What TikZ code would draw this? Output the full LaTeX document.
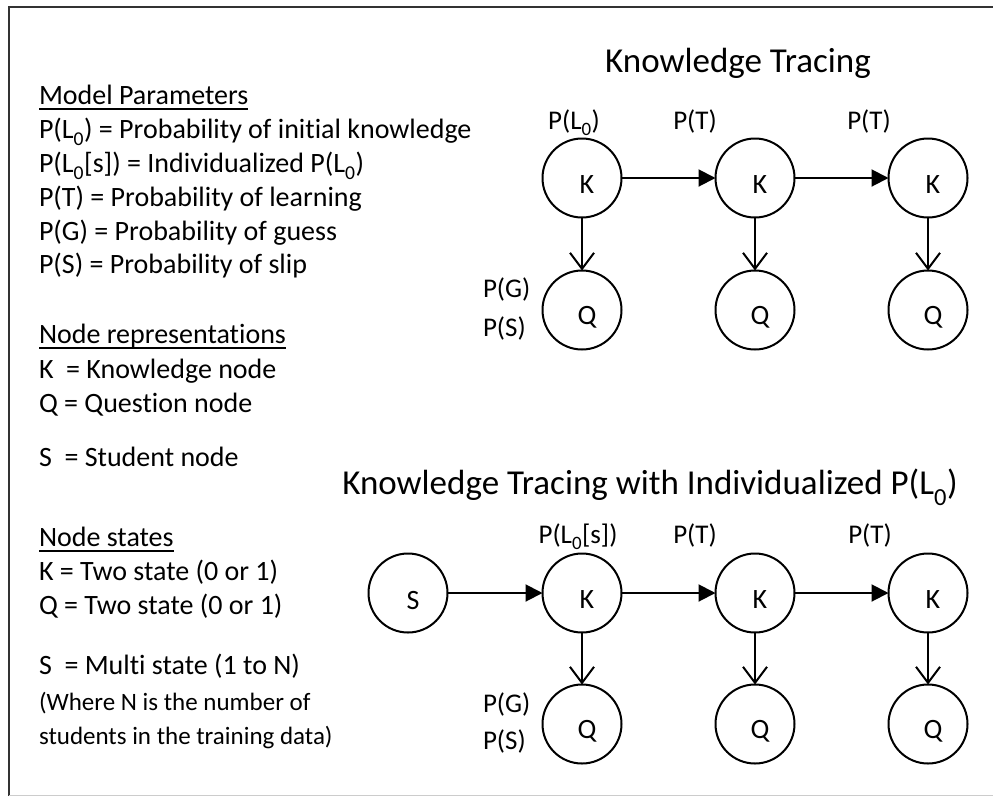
\documentclass[tikz,border=0pt]{standalone}
\usepackage{fontspec}
\setmainfont{Carlito}[Ligatures=NoCommon]
\usetikzlibrary{arrows.meta}
% low-set subscript zero, as in L_0
\newcommand\lzero{\raisebox{-0.12em}{\textsubscript{0}}}

\begin{document}
\begin{tikzpicture}[x=1pt,y=-1pt,
  every node/.style={inner sep=0pt, outer sep=0pt},
  var/.style={circle, draw, line width=2pt, minimum size=79pt,
    label={[font=\fontsize{28}{30}\selectfont, xshift=5pt, yshift=-7pt]center:#1}},
  body/.style={anchor=base west, font=\fontsize{28}{32}\selectfont},
  small/.style={anchor=base west, font=\fontsize{25}{30}\selectfont},
  lbl/.style={anchor=base, font=\fontsize{27}{30}\selectfont},
  lblw/.style={anchor=base west, font=\fontsize{27}{30}\selectfont},
  title/.style={anchor=base, font=\fontsize{35}{40}\selectfont},
  rule/.style={line width=2pt},
  trans/.style={-{Triangle[length=17pt,width=17pt]}, line width=2pt},
  emit/.style={-{Straight Barb[length=16pt,width=24pt]}, line width=2pt},
]
\useasboundingbox (0,0) rectangle (993,796);
\fill[white] (0,0) rectangle (993,796);

% frame
\draw[line width=2pt, black!80] (9,796) -- (9,7) -- (993,7);
\draw[line width=1pt, black!20] (9,795.5) -- (993,795.5);

% legend: model parameters
\node[body] (mp) at (39,104) {Model Parameters};
\draw[rule] ([yshift=-4.5pt]mp.base west) -- ([yshift=-4.5pt]mp.base east);
\node[body] (p1) at (39,138) {P(L\lzero) = Probability of initial knowledge};
\node[body] (p2) at (39,172) {P(L\lzero[s]) = Individualized P(L\lzero)};
\node[body] (p3) at (39,206) {P(T) = Probability of learning};
\node[body] (p4) at (39,240) {P(G) = Probability of guess};
\node[body] (p5) at (39,273) {P(S) = Probability of slip};

% legend: node representations
\node[body] (nr) at (39,343) {Node representations};
\draw[rule] ([yshift=-4.5pt]nr.base west) -- ([yshift=-4.5pt]nr.base east);
\node[body] (r1) at (39,378) {K\ \ = Knowledge node};
\node[body] (r2) at (39,412) {Q = Question node};
\node[body] (r3) at (39,466) {S\ \ = Student node};

% legend: node states
\node[body] (ns) at (39,546) {Node states};
\draw[rule] ([yshift=-4.5pt]ns.base west) -- ([yshift=-4.5pt]ns.base east);
\node[body] (s1) at (39,580) {K = Two state (0 or 1)};
\node[body] (s2) at (39,614) {Q = Two state (0 or 1)};
\node[body] (s3) at (39,674) {S\ \ = Multi state (1 to N)};
\node[small] (s4) at (39,710) {(Where N is the number of};
\node[small] (s5) at (39,744) {students in the training data)};

% standard knowledge tracing
\node[title] (t1) at (738,72) {Knowledge Tracing};
\node[var=K] (ka) at (582,178) {};
\node[var=K] (kb) at (755,178) {};
\node[var=K] (kc) at (928,178) {};
\node[var=Q] (qa) at (582,310) {};
\node[var=Q] (qb) at (755,310) {};
\node[var=Q] (qc) at (928,310) {};
\draw[trans] (ka) -- (kb);
\draw[trans] (kb) -- (kc);
\draw[emit] (ka) -- (qa);
\draw[emit] (kb) -- (qb);
\draw[emit] (kc) -- (qc);
\node[lbl] (la) at (574,129) {P(L\lzero)};
\node[lbl] (lb) at (695,129) {P(T)};
\node[lbl] (lc) at (869,129) {P(T)};
\node[lblw] (lg) at (483,297) {P(G)};
\node[lblw] (ls) at (483,336) {P(S)};

% knowledge tracing with individualized prior
\node[title] (t2) at (650,494) {Knowledge Tracing with Individualized P(L\lzero)};
\node[var=S] (st) at (408,593) {};
\node[var=K] (kd) at (582,593) {};
\node[var=K] (ke) at (755,593) {};
\node[var=K] (kf) at (928,593) {};
\node[var=Q] (qd) at (582,724) {};
\node[var=Q] (qe) at (755,724) {};
\node[var=Q] (qf) at (928,724) {};
\draw[trans] (st) -- (kd);
\draw[trans] (kd) -- (ke);
\draw[trans] (ke) -- (kf);
\draw[emit] (kd) -- (qd);
\draw[emit] (ke) -- (qe);
\draw[emit] (kf) -- (qf);
\node[lbl] (ld) at (578,543) {P(L\lzero[s])};
\node[lbl] (le) at (695,543) {P(T)};
\node[lbl] (lf) at (870,543) {P(T)};
\node[lblw] (lh) at (483,712) {P(G)};
\node[lblw] (li) at (483,749) {P(S)};
\end{tikzpicture}
\end{document}
